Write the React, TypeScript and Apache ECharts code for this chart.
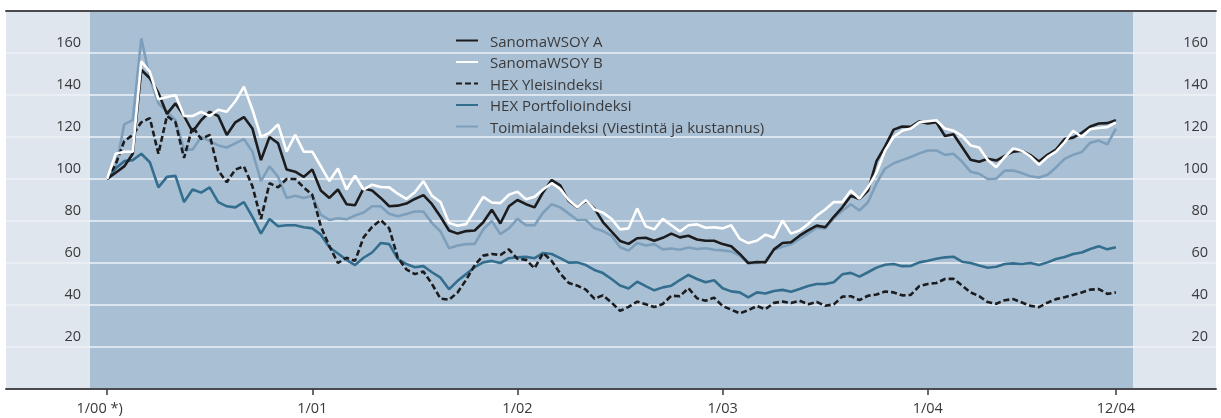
import React, { useEffect, useRef } from 'react';
import * as echarts from 'echarts';

// time axis: months since 1/00, half-month steps (0 … 59)
const months: number[] = Array.from({ length: 119 }, (_, i) => i / 2);

const sanomaA = [
  100, 103, 106, 112, 152, 148, 141, 131, 136, 130, 122.5, 128, 132, 130, 121, 127, 129.5, 124, 109, 120, 117, 104.5, 103.5, 101,
  104.5, 94.5, 91, 95, 88, 87.5, 95.5, 94.5, 91, 87, 87.3, 88.3, 90.5, 92.3, 88, 82, 75.5, 74, 75.2, 75.5, 79.4, 85.4, 78.8, 87,
  90, 88, 86.5, 93.7, 99.5, 97, 89.5, 86.5, 89.7, 86, 79.5, 75, 70.5, 69.1, 71.8, 72, 70.6, 72, 74, 72.2, 73, 71.2, 70.6, 70.6,
  69, 68, 64.3, 60, 60.5, 60.3, 66.5, 69.5, 69.9, 73, 75.5, 77.8, 77, 82, 86.5, 92, 90.5, 94.5, 108.5, 115.5, 123.5, 125, 124.8, 127.4,
  126.4, 127, 120.5, 121.3, 115.2, 109.2, 108.2, 109.6, 108.8, 111, 113, 113.5, 111.4, 108.3, 111.5, 114, 119, 119.7, 122, 125, 126.4, 126.6, 128,
];

const sanomaB = [
  100, 112, 113, 113, 156, 151, 138, 139, 140, 130, 130, 132, 130, 133, 132, 137, 144, 133, 120, 122, 126, 113, 121, 113,
  113, 106, 99, 105, 95, 101.6, 95, 97.3, 96.2, 96, 93, 90.5, 93.7, 99, 92, 89, 79, 77.7, 78.5, 85, 91.5, 88.8, 88.5, 92.5,
  94, 90.3, 91.5, 95, 98, 95.3, 90, 86.5, 90, 85.5, 84, 81, 76, 76.5, 86, 77.5, 76, 81, 78, 75, 78, 78.4, 76.8, 77,
  76.5, 78, 71.5, 69.5, 70.6, 73.5, 72, 80.2, 74, 75.5, 78.5, 82.5, 85.5, 89, 89, 94.5, 90.6, 96, 103, 113.5, 120, 123, 124, 127,
  127.5, 128, 124, 123, 120.5, 116, 115, 109, 105.6, 110.5, 114.5, 113.5, 110.7, 106.8, 110.5, 113, 117.5, 123, 120, 123.7, 124.3, 124.7, 127,
];

const hexYleis = [
  100, 107, 118, 121, 127, 129, 112, 130, 127, 110, 125, 119, 121, 104, 98.5, 104.5, 106, 96.5, 81, 98, 96, 100, 100, 96,
  92.5, 77.5, 68, 60, 62.5, 61, 72.2, 77.2, 80.5, 76.5, 62.5, 57, 54.7, 56, 50, 43, 42.5, 46, 52, 59, 63.5, 64.3, 63.8, 66.5,
  62, 61.5, 57.5, 64.8, 61, 55, 50.5, 49.2, 47.3, 43, 44.6, 41.2, 37.2, 39.1, 41.6, 40.4, 39, 40.5, 44.4, 44.2, 48, 43.2, 42, 43.5,
  39.5, 37.8, 36, 37.5, 39.5, 38, 41, 41.6, 41, 42, 40.4, 41.5, 39.6, 40.3, 44, 44.2, 42.3, 44.4, 45, 46.4, 46, 44.6, 44.8, 49,
  50, 50.5, 52.4, 52.5, 49.3, 46, 44.2, 41.4, 40.6, 42.3, 42.8, 41.2, 39.6, 39, 41.1, 42.8, 43.7, 44.8, 46, 47.3, 47.6, 45.3, 46,
];

const hexPortfolio = [
  100, 105, 108.5, 109, 112, 108, 96, 101, 101.5, 89, 95, 93.5, 96, 89, 87, 86.5, 89, 82, 74, 81, 77.5, 78, 78, 77,
  76.5, 73.5, 67.5, 64.5, 61.5, 59, 62.5, 65, 69.5, 69, 62, 59.5, 58, 58.5, 55.6, 53, 47.5, 51.5, 54.7, 58, 60.3, 61, 60, 62.3,
  62.7, 62.9, 62.3, 64.8, 64.3, 62.3, 60.2, 60.3, 59, 56.7, 55.2, 52.4, 49.3, 47.9, 51.1, 49, 47, 48.4, 49.2, 51.9, 54.3, 52.4, 50.8, 51.8,
  48, 46.5, 46, 43.6, 46, 45.5, 46.7, 47.2, 46.3, 47.6, 49, 50, 50, 50.8, 54.6, 55.3, 53.5, 55.6, 57.8, 59.2, 59.5, 58.5, 58.6, 60.3,
  61.1, 62, 62.7, 63, 60.6, 60, 58.8, 57.7, 58.2, 59.5, 59.8, 59.5, 60, 59, 60.3, 61.9, 62.9, 64.3, 65, 66.7, 68, 66.5, 67.5,
];

const toimiala = [
  100, 105, 126, 128, 167, 148, 136, 132, 128, 114, 114, 120, 118, 116, 115, 117, 119, 113, 99, 106, 101, 91, 92, 91,
  92, 83, 80.5, 81.3, 80.8, 82.6, 84, 87, 87, 83.4, 82.3, 83.3, 84.5, 84.5, 79, 75, 67, 68.3, 69, 69.1, 76, 80, 73.8, 76.5,
  81, 78, 78, 84, 88, 86.5, 83.5, 80.5, 80.5, 76.5, 75.2, 73, 67.5, 65.9, 69.5, 68.3, 69, 66.5, 66.9, 66.3, 67.4, 66.7, 67, 66.3,
  66, 65.5, 63.5, 59.8, 60, 61, 66.3, 67.7, 68.9, 71.5, 74, 76.8, 76.5, 81.3, 84.9, 88, 85, 88.9, 98, 105, 107.5, 109, 110.5, 112.2,
  113.6, 113.6, 111.5, 112, 108.3, 103.5, 102.5, 100, 100.1, 104, 104, 102.8, 101.3, 100.7, 102, 105.5, 109.6, 111.5, 112.8, 117.3, 118.3, 116.5, 124,
];

const seriesNames = [
  'SanomaWSOY A',
  'SanomaWSOY B',
  'HEX Yleisindeksi',
  'HEX Portfolioindeksi',
  'Toimialaindeksi (Viestintä ja kustannus)',
];

const tickMonths = [0, 12, 24, 36, 48, 59];
const tickLabels = ['1/00 *)', '1/01', '1/02', '1/03', '1/04', '12/04'];
const yTickValues = [20, 40, 60, 80, 100, 120, 140, 160];

export default function App() {
  const ref = useRef<HTMLDivElement>(null);

  useEffect(() => {
    if (!ref.current) return;
    const chart = echarts.init(ref.current, null, { renderer: 'svg' });
    const font = '"Open Sans", "Noto Sans", sans-serif';
    const textColor = '#3a3a3c';
    const pair = (vals: number[]) => months.map((m, i) => [m, vals[i]]);

    const frameAxis = (position: 'top' | 'bottom') => ({
      gridIndex: 0,
      type: 'value',
      min: 0,
      max: 1,
      position,
      axisLine: { show: true, onZero: false, lineStyle: { color: '#4a4a50', width: 2 } },
      axisTick: { show: false },
      axisLabel: { show: false },
      splitLine: { show: false },
    });

    const labelAxis = (position: 'left' | 'right') => ({
      gridIndex: 1,
      type: 'value',
      min: 0,
      max: 180,
      interval: 20,
      position,
      axisLine: { show: false, onZero: false },
      axisTick: { show: false },
      splitLine: { show: false },
      axisLabel: {
        customValues: yTickValues,
        color: textColor,
        fontSize: 14.5,
        fontFamily: font,
        margin: position === 'left' ? 9 : 75,
        align: 'right',
        verticalAlign: 'bottom',
        lineHeight: 24,
      },
    });

    chart.setOption({
      animation: false,
      textStyle: { fontFamily: font },
      graphic: [
        {
          type: 'rect',
          z: -10,
          silent: true,
          shape: { x: 6, y: 11, width: 1210, height: 378 },
          style: { fill: '#dfe6ee' },
        },
      ],
      grid: [
        { left: 6, right: 5, top: 11, bottom: 29, show: false },
        { left: 90, right: 88, top: 11, bottom: 29, show: true, backgroundColor: '#a9bfd3', borderWidth: 0 },
      ],
      xAxis: [
        frameAxis('bottom'),
        frameAxis('top'),
        {
          gridIndex: 1,
          type: 'value',
          min: -1,
          max: 60,
          position: 'bottom',
          axisLine: { show: false, onZero: false },
          axisTick: {
            show: true,
            inside: false,
            length: 6,
            customValues: tickMonths,
            lineStyle: { color: '#3a3a3c', width: 1.5 },
          },
          axisLabel: {
            customValues: tickMonths,
            color: textColor,
            fontSize: 14.5,
            fontFamily: font,
            margin: 11,
            formatter: (v: number) => {
              const i = tickMonths.indexOf(v);
              if (i < 0) return '';
              return i === 0 ? '{a|' + tickLabels[0] + '}' : tickLabels[i];
            },
            rich: {
              a: { color: textColor, fontSize: 14.5, fontFamily: font, padding: [0, 15, 0, 0] },
            },
          },
          splitLine: { show: false },
        },
      ],
      yAxis: [
        {
          gridIndex: 0,
          type: 'value',
          min: 0,
          max: 180,
          interval: 20,
          axisLine: { show: false, onZero: false },
          axisTick: { show: false },
          axisLabel: { show: false },
          splitLine: { show: true, lineStyle: { color: '#eef2f6', width: 1.6 } },
        },
        labelAxis('left'),
        labelAxis('right'),
      ],
      legend: {
        orient: 'vertical',
        left: 455,
        top: 33,
        padding: 0,
        itemWidth: 22,
        itemHeight: 14,
        itemGap: 6.5,
        data: seriesNames,
        itemStyle: { opacity: 0 },
        textStyle: { fontSize: 15, color: textColor, fontFamily: font, lineHeight: 14, padding: [0, 0, 0, 7] },
      },
      series: [
        {
          name: seriesNames[4],
          type: 'line',
          xAxisIndex: 2,
          yAxisIndex: 1,
          data: pair(toimiala),
          symbol: 'none',
          z: 2,
          itemStyle: { color: '#7d9fbb' },
          lineStyle: { color: '#7d9fbb', width: 2.6 },
        },
        {
          name: seriesNames[3],
          type: 'line',
          xAxisIndex: 2,
          yAxisIndex: 1,
          data: pair(hexPortfolio),
          symbol: 'none',
          z: 3,
          itemStyle: { color: '#346e8f' },
          lineStyle: { color: '#346e8f', width: 2.6 },
        },
        {
          name: seriesNames[2],
          type: 'line',
          xAxisIndex: 2,
          yAxisIndex: 1,
          data: pair(hexYleis),
          symbol: 'none',
          z: 4,
          itemStyle: { color: '#1c1c1e' },
          lineStyle: { color: '#1c1c1e', width: 2.6, type: [6, 3] },
        },
        {
          name: seriesNames[0],
          type: 'line',
          xAxisIndex: 2,
          yAxisIndex: 1,
          data: pair(sanomaA),
          symbol: 'none',
          z: 5,
          itemStyle: { color: '#1c1c1e' },
          lineStyle: { color: '#1c1c1e', width: 2.6 },
        },
        {
          name: seriesNames[1],
          type: 'line',
          xAxisIndex: 2,
          yAxisIndex: 1,
          data: pair(sanomaB),
          symbol: 'none',
          z: 6,
          itemStyle: { color: '#ffffff' },
          lineStyle: { color: '#ffffff', width: 2.6 },
        },
      ],
    });

    return () => chart.dispose();
  }, []);

  return (
    <div
      ref={ref}
      style={{ position: 'fixed', left: 0, top: 0, width: 1221, height: 418 }}
    />
  );
}
